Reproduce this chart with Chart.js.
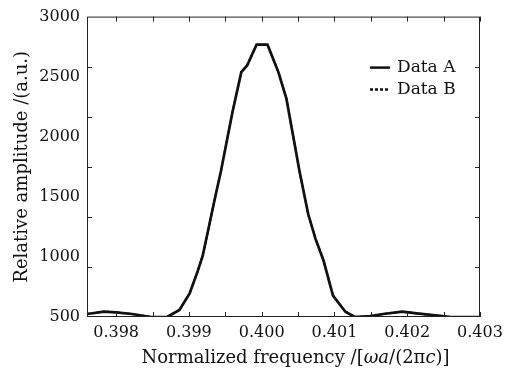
<!DOCTYPE html>
<html>
<head>
<meta charset="utf-8">
<script src="https://cdn.jsdelivr.net/npm/chart.js@4.4.1/dist/chart.umd.min.js"></script>
<style>
html, body {margin: 0; padding: 0; background: #fff;}
</style>
</head>
<body>
<canvas id="specChart" width="512" height="374"></canvas>
<script>
//data
const freq = [0.3976, 0.39783, 0.3980, 0.39822, 0.39848, 0.3987, 0.39887, 0.39901, 0.39912, 0.39919,
    0.39935, 0.39944, 0.3996, 0.39972, 0.3998, 0.39993, 0.40008, 0.40023, 0.40034, 0.40052,
    0.40064, 0.40074, 0.40085, 0.40098, 0.40115, 0.40128, 0.40149, 0.40167, 0.40193, 0.40213,
    0.40248, 0.40259, 0.403];
const ampA = [525, 544, 539, 525, 500, 500, 558, 696, 880, 1010,
    1465, 1713, 2208, 2538, 2593, 2766, 2766, 2538, 2317, 1713,
    1355, 1150, 970, 678, 544, 500, 508, 525, 544, 530,
    508, 500, 500];
const ampB = [525, 544, 539, 525, 500, 500, 558, 696, 880, 1010,
    1465, 1713, 2208, 2538, 2593, 2766, 2766, 2538, 2317, 1713,
    1355, 1150, 970, 678, 544, 500, 508, 525, 544, 530,
    508, 500, 500];
const seriesNames = ['Data A', 'Data B'];
const xTicks = [0.398, 0.399, 0.400, 0.401, 0.402, 0.403];
const yTicks = [500, 1000, 1500, 2000, 2500, 3000];
const xTitle = [['Normalized frequency /[', false], ['\u03c9a', true], ['/(2\u03c0', false], ['c', true], [')]', false]];
const yTitle = 'Relative amplitude /(a.u.)';

const serif = '"DejaVu Serif", "Liberation Serif", serif';

//frame, inward ticks, legend and axis titles
const decor = {
    id: 'decor',
    afterDraw(chart) {
        const c = chart.ctx;
        const a = chart.chartArea;
        const xs = chart.scales.x, ys = chart.scales.y;
        c.save();
        c.strokeStyle = '#222';
        c.lineWidth = 1;
        c.strokeRect(a.left + 0.5, a.top + 0.5, a.right - a.left - 1, a.bottom - a.top - 1);
        c.beginPath();
        for (let v = 0.398; v <= 0.40301; v += 0.0005) { //ticks every 0.0005
            const px = Math.round(xs.getPixelForValue(v)) + 0.5;
            c.moveTo(px, a.bottom); c.lineTo(px, a.bottom - 5);
            c.moveTo(px, a.top); c.lineTo(px, a.top + 5);
        }
        for (let k = 1; k < 6; k++) { //frame ticks split the y range in 6, not on the labels
            const py = Math.round(ys.getPixelForValue(500 + k * 2500 / 6)) + 0.5;
            c.moveTo(a.left, py); c.lineTo(a.left + 5, py);
            c.moveTo(a.right, py); c.lineTo(a.right - 5, py);
        }
        c.stroke();

        //legend inside the plot
        c.fillStyle = '#111';
        c.font = '17px ' + serif;
        c.textBaseline = 'middle';
        chart.data.datasets.forEach((ds, i) => {
            const y = a.top + 51 + i * 22;
            const x0 = a.right - 110;
            c.beginPath();
            c.strokeStyle = '#111';
            c.lineWidth = 2.5;
            c.setLineDash(ds.borderDash || []);
            c.moveTo(x0, y); c.lineTo(x0 + 20, y);
            c.stroke();
            c.setLineDash([]);
            c.fillText(ds.label, x0 + 27, y);
        });

        //x title with italic parts
        const fs = 18;
        let total = 0;
        xTitle.forEach(([t, it]) => {
            c.font = (it ? 'italic ' : '') + fs + 'px ' + serif;
            total += c.measureText(t).width;
        });
        let x = (a.left + a.right) / 2 + 12 - total / 2;
        xTitle.forEach(([t, it]) => {
            c.font = (it ? 'italic ' : '') + fs + 'px ' + serif;
            c.fillText(t, x, 358);
            x += c.measureText(t).width;
        });

        //y title rotated
        c.translate(22, (a.top + a.bottom) / 2);
        c.rotate(-Math.PI / 2);
        c.font = fs + 'px ' + serif;
        c.textAlign = 'center';
        c.fillText(yTitle, 0, 0);
        c.restore();
    }
};

const specChart = new Chart(document.getElementById('specChart'), {
    type: 'line',
    data: {
        datasets: [
            {label: seriesNames[0], data: freq.map((f, i) => ({x: f, y: ampA[i]})), borderColor: '#111', borderWidth: 2.7, pointRadius: 0, tension: 0},
            {label: seriesNames[1], data: freq.map((f, i) => ({x: f, y: ampB[i]})), borderColor: '#111', borderWidth: 2, borderDash: [3, 2], pointRadius: 0, tension: 0}
        ]
    },
    options: {
        responsive: false,
        animation: false,
        devicePixelRatio: 1,
        layout: {padding: {left: 0, right: 32, top: 14, bottom: 0}},
        scales: {
            x: {
                type: 'linear',
                min: 0.3976,
                max: 0.403,
                grid: {display: false, drawTicks: false},
                border: {display: false},
                afterBuildTicks: s => { s.ticks = xTicks.map(v => ({value: v})); },
                afterFit: s => { s.height = 57; },
                ticks: {
                    color: '#111',
                    padding: 6,
                    maxRotation: 0,
                    font: {family: serif, size: 16},
                    callback: v => v.toFixed(3)
                }
            },
            y: {
                min: 500,
                max: 3000,
                grid: {display: false, drawTicks: false},
                border: {display: false},
                afterBuildTicks: s => { s.ticks = yTicks.map(v => ({value: v})); },
                afterFit: s => { s.width = 87; },
                ticks: {
                    color: '#111',
                    padding: 7,
                    font: {family: serif, size: 16},
                    callback: v => String(v)
                }
            }
        },
        plugins: {
            legend: {display: false},
            tooltip: {enabled: false}
        }
    },
    plugins: [decor]
});
</script>
</body>
</html>
